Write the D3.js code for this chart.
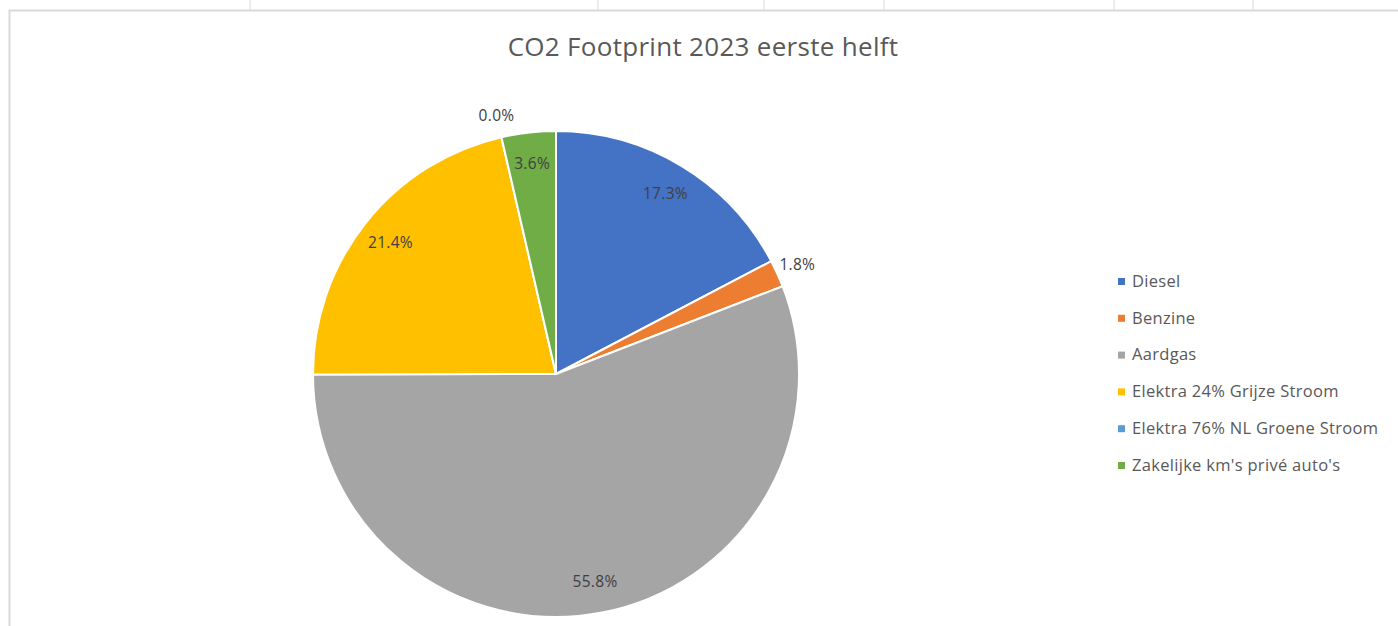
<!DOCTYPE html>
<html>
<head>
<meta charset="utf-8">
<script src="https://cdn.jsdelivr.net/npm/d3@7"></script>
<style>
  body { margin: 0; background: #fff; }
  svg { display: block; font-family: "Open Sans", "Liberation Sans", sans-serif; }
</style>
</head>
<body>
<div id="chart"></div>
<script>
const categories = ["Diesel", "Benzine", "Aardgas", "Elektra 24% Grijze Stroom", "Elektra 76% NL Groene Stroom", "Zakelijke km's privé auto's"];
const values = [17.3, 1.8, 55.8, 21.4, 0.0, 3.6];
const colors = ["#4472C4", "#ED7D31", "#A5A5A5", "#FFC000", "#5B9BD5", "#70AD47"];
const labelOutside = [false, true, false, false, true, false];
const sheetCols = [250, 598, 764, 884, 1114, 1253];

let width = 1398,
    height = 626,
    cx = 556,
    cy = 374,
    radius = 243;

let svg = d3.select('#chart')
  .append('svg')
  .attr('width', width)
  .attr('height', height);

// spreadsheet grid behind the chart
svg.selectAll('.col')
  .data(sheetCols)
  .join('line')
  .attr('x1', d => d).attr('x2', d => d)
  .attr('y1', 0).attr('y2', 10)
  .attr('stroke', '#d9d9d9');

// chart border
svg.append('rect')
  .attr('x', 9.5).attr('y', 10.5)
  .attr('width', width + 10).attr('height', height + 10)
  .attr('fill', '#fff')
  .attr('stroke', '#d9d9d9')
  .attr('stroke-width', 2);

svg.append('text')
  .attr('x', 703)
  .attr('y', 56)
  .attr('text-anchor', 'middle')
  .attr('font-size', 26)
  .attr('letter-spacing', 0.3)
  .attr('fill', '#595959')
  .text('CO2 Footprint 2023 eerste helft');

let pie = d3.pie().sort(null).value(d => d);
let arcs = pie(values);

let arc = d3.arc().innerRadius(0).outerRadius(radius);
let inArc = d3.arc().innerRadius(radius * 0.87).outerRadius(radius * 0.87);
let outArc = d3.arc().innerRadius(radius + 22).outerRadius(radius + 22);

let g = svg.append('g').attr('transform', `translate(${cx}, ${cy})`);

g.selectAll('path')
  .data(arcs)
  .join('path')
  .attr('d', arc)
  .attr('fill', (d, i) => colors[i])
  .attr('stroke', '#fff')
  .attr('stroke-width', 2)
  .attr('stroke-linejoin', 'round');

g.selectAll('.lbl')
  .data(arcs)
  .join('text')
  .attr('class', 'lbl')
  .attr('transform', (d, i) => `translate(${(labelOutside[i] ? outArc : inArc).centroid(d)})`)
  .attr('text-anchor', 'middle')
  .attr('dy', '0.35em')
  .attr('font-size', 15.5)
  .attr('letter-spacing', 0.3)
  .attr('fill', '#404040')
  .text(d => d.data.toFixed(1) + '%');

// legend
let legend = svg.append('g')
  .attr('transform', 'translate(1118, 281)');

let item = legend.selectAll('g')
  .data(categories)
  .join('g')
  .attr('transform', (d, i) => `translate(0, ${i * 36.8})`);

item.append('rect')
  .attr('x', 0).attr('y', -3)
  .attr('width', 7).attr('height', 7)
  .attr('fill', (d, i) => colors[i]);

item.append('text')
  .attr('x', 14)
  .attr('dy', '0.35em')
  .attr('font-size', 16.5)
  .attr('letter-spacing', 0.3)
  .attr('fill', '#595959')
  .text(d => d);
</script>
</body>
</html>
